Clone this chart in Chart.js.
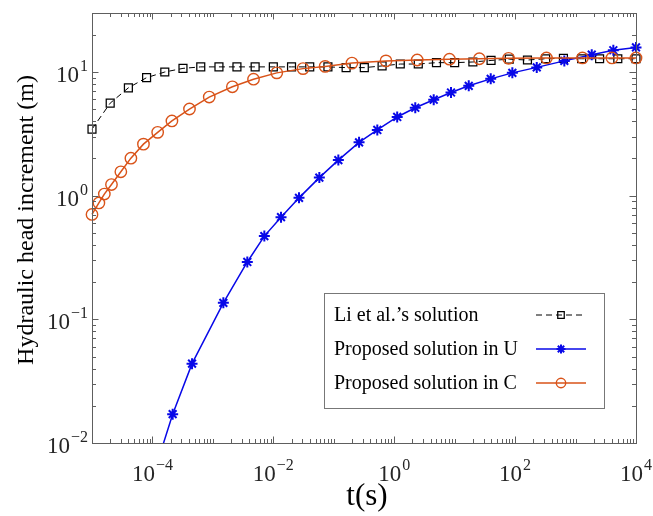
<!DOCTYPE html>
<html lang="en">
  <head>
    <meta charset="UTF-8" />
    <title>Hydraulic head increment</title>
    <style>
      body { margin: 0; background: #fff; }
      #wrap { width: 653px; height: 516px; }
    </style>
  </head>
  <body>
    <div id="wrap"><canvas id="myChart" width="653" height="516"></canvas></div>
    <script src="https://cdn.jsdelivr.net/npm/chart.js"></script>
    <script>
      // Li et al.'s solution
      const liT = [1e-5, 2e-5, 4e-5, 8e-5, 1.6e-4, 3.2e-4, 6.3e-4, 1.26e-3, 2.5e-3, 5e-3, 1e-2,
        2e-2, 4e-2, 8e-2, 0.16, 0.32, 0.63, 1.26, 2.5, 5, 10, 20, 40, 80, 160, 320, 630, 1260, 2500, 5000, 1e4];
      const liH = [3.45, 5.6, 7.45, 9.0, 10.0, 10.7, 11.0, 11.0, 11.0, 11.0, 11.0,
        11.0, 11.0, 11.0, 10.85, 10.85, 11.2, 11.6, 11.6, 11.9, 11.9, 12.05, 12.4, 12.7, 12.5, 12.8, 12.9, 12.8, 12.8, 12.8, 12.8];

      // proposed solution in U
      const uT = [1.0e-4, 2.16e-4, 4.52e-4, 1.49e-3, 3.71e-3, 7.1e-3, 1.34e-2, 2.66e-2, 5.77e-2, 0.119, 0.262, 0.525,
        1.12, 2.23, 4.5, 8.7, 17.1, 39.5, 90, 228, 652, 1853, 4217, 1e4];
      const uH = [0.0052, 0.0171, 0.0438, 0.136, 0.291, 0.471, 0.67, 0.96, 1.40, 1.94, 2.70, 3.40,
        4.33, 5.14, 5.97, 6.83, 7.73, 8.80, 9.84, 10.9, 12.3, 13.8, 15.0, 15.8];

      // proposed solution in C
      const cT = [1e-5, 1.3e-5, 1.6e-5, 2.1e-5, 3.0e-5, 4.4e-5, 7.1e-5, 1.22e-4, 2.1e-4, 4.1e-4, 8.7e-4, 2.1e-3, 4.7e-3,
        1.14e-2, 3.1e-2, 7.2e-2, 0.2, 0.73, 2.4, 8.2, 25.6, 78, 330, 1300, 4000, 1e4];
      const cH = [0.705, 0.873, 1.03, 1.23, 1.56, 2.01, 2.61, 3.25, 4.02, 5.02, 6.27, 7.59, 8.75,
        9.84, 10.65, 11.1, 11.8, 12.3, 12.5, 12.7, 12.8, 12.9, 13.0, 13.0, 13.0, 13.0];

      const seriesNames = ["Li et al.’s solution", "Proposed solution in U", "Proposed solution in C"];

      // tick labels (10^exp)
      const xTickVals = [1e-4, 1e-2, 1, 1e2, 1e4];
      const xTickExp = ["−4", "−2", "0", "2", "4"];
      const yTickVals = [1e-2, 1e-1, 1, 10];
      const yTickExp = ["−2", "−1", "0", "1"];

      const serif = '"Liberation Serif", "Times New Roman", serif';
      const pts = (xs, ys) => xs.map((v, i) => ({ x: v, y: ys[i] }));

      const datasets = [
        {
          label: seriesNames[0],
          data: pts(liT, liH),
          borderColor: "#000000",
          borderWidth: 1,
          borderDash: [6, 4],
          pointStyle: "rect",
          pointRadius: 5.6,
          pointBorderWidth: 1.25,
          pointBackgroundColor: "rgba(0,0,0,0)",
          pointBorderColor: "#000000",
          order: 3,
        },
        {
          label: seriesNames[1],
          data: pts(uT, uH),
          borderColor: "#0808e8",
          borderWidth: 1.5,
          pointStyle: "star",
          pointRadius: 5.5,
          pointBorderWidth: 2,
          pointBorderColor: "#0808e8",
          pointBackgroundColor: "#0808e8",
          order: 2,
        },
        {
          label: seriesNames[2],
          data: pts(cT, cH),
          borderColor: "#d95319",
          borderWidth: 1.5,
          pointStyle: "circle",
          pointRadius: 5.7,
          pointBorderWidth: 1.4,
          pointBorderColor: "#d95319",
          pointBackgroundColor: "rgba(0,0,0,0)",
          order: 1,
        },
      ];
      datasets.forEach((d) => {
        d.fill = false;
        d.tension = 0;
        d.clip = { left: 8, top: 8, right: 8, bottom: 0 };
      });

      function drawPow(ctx, exp, x, y, align) {
        ctx.font = "23px " + serif;
        const wb = ctx.measureText("10").width;
        ctx.font = "16px " + serif;
        const we = ctx.measureText(exp).width;
        const left = align === "center" ? x - (wb + we + 1) / 2 : x - wb - we - 1;
        ctx.textAlign = "left";
        ctx.textBaseline = "alphabetic";
        ctx.font = "23px " + serif;
        ctx.fillText("10", left, y);
        ctx.font = "16px " + serif;
        ctx.fillText(exp, left + wb + 1, y - 11);
      }

      // box, inward ticks, labels, titles, legend (matlab style)
      const matlabAxes = {
        id: "matlabAxes",
        afterDatasetsDraw(chart) {
          const { ctx, chartArea: a } = chart;
          const x = chart.scales.x;
          const y = chart.scales.y;
          ctx.save();

          ctx.strokeStyle = "#5e5e5e";
          ctx.lineWidth = 1;
          ctx.beginPath();
          const xt = (v, len) => {
            const p = Math.round(x.getPixelForValue(v)) + 0.5;
            ctx.moveTo(p, a.bottom);
            ctx.lineTo(p, a.bottom - len);
            ctx.moveTo(p, a.top);
            ctx.lineTo(p, a.top + len);
          };
          const yt = (v, len) => {
            const p = Math.round(y.getPixelForValue(v)) + 0.5;
            ctx.moveTo(a.left, p);
            ctx.lineTo(a.left + len, p);
            ctx.moveTo(a.right, p);
            ctx.lineTo(a.right - len, p);
          };
          for (let n = -5; n <= 3; n++) {
            for (let m = 1; m <= 9; m++) {
              const v = m * Math.pow(10, n);
              if (m === 1 && (n % 2 === 0 || n === -5)) continue;
              xt(v, 4);
            }
          }
          xTickVals.forEach((v) => xt(v, 6.5));
          for (let n = -2; n <= 1; n++) {
            for (let m = 2; m <= 9; m++) {
              const v = m * Math.pow(10, n);
              if (v < 30) yt(v, 4);
            }
          }
          yTickVals.forEach((v) => yt(v, 6.5));
          ctx.stroke();
          ctx.strokeRect(Math.round(a.left) + 0.5, Math.round(a.top) + 0.5,
            Math.round(a.right - a.left), Math.round(a.bottom - a.top));

          ctx.fillStyle = "#262626";
          xTickVals.forEach((v, i) => drawPow(ctx, xTickExp[i], x.getPixelForValue(v), a.bottom + 38, "center"));
          yTickVals.forEach((v, i) => drawPow(ctx, yTickExp[i], a.left - 4, y.getPixelForValue(v) + 10, "right"));

          // axis titles
          ctx.fillStyle = "#000000";
          ctx.textAlign = "center";
          ctx.textBaseline = "alphabetic";
          ctx.font = "31px " + serif;
          ctx.fillText("t(s)", 367, 505);
          ctx.save();
          ctx.translate(33, 220);
          ctx.rotate(-Math.PI / 2);
          ctx.font = "24px " + serif;
          ctx.fillText("Hydraulic head increment (m)", 0, 0);
          ctx.restore();

          // legend
          const bx = 324.5, by = 293.5, bw = 280, bh = 115;
          ctx.fillStyle = "#ffffff";
          ctx.fillRect(bx, by, bw, bh);
          ctx.strokeStyle = "#777777";
          ctx.lineWidth = 1;
          ctx.strokeRect(bx, by, bw, bh);
          const rows = [315, 349, 383];
          chart.data.datasets.forEach((d, i) => {
            const ry = rows[i];
            ctx.fillStyle = "#000000";
            ctx.font = "20px " + serif;
            ctx.textAlign = "left";
            ctx.textBaseline = "middle";
            ctx.fillText(d.label, 334, ry + 1);
            ctx.strokeStyle = d.borderColor;
            ctx.lineWidth = d.borderWidth;
            ctx.setLineDash(d.borderDash || []);
            ctx.beginPath();
            ctx.moveTo(536, ry);
            ctx.lineTo(586, ry);
            ctx.stroke();
            ctx.setLineDash([]);
            ctx.lineWidth = d.pointBorderWidth;
            ctx.strokeStyle = d.pointBorderColor;
            ctx.fillStyle = d.pointBackgroundColor;
            Chart.helpers.drawPoint(ctx, {
              pointStyle: d.pointStyle,
              radius: d.pointRadius - 1,
              borderWidth: d.pointBorderWidth,
              rotation: 0,
            }, 561, ry);
          });
          ctx.restore();
        },
      };

      const config = {
        type: "line",
        data: { datasets: datasets },
        options: {
          responsive: false,
          animation: false,
          events: [],
          layout: { padding: { left: 92, right: 17, top: 13, bottom: 73 } },
          plugins: {
            legend: { display: false },
            tooltip: { enabled: false },
          },
          scales: {
            x: { type: "logarithmic", min: 1e-5, max: 1e4, display: false },
            y: { type: "logarithmic", min: 1e-2, max: 30, display: false },
          },
        },
        plugins: [matlabAxes],
      };
      const myChart = new Chart(document.getElementById("myChart"), config);
    </script>
  </body>
</html>
